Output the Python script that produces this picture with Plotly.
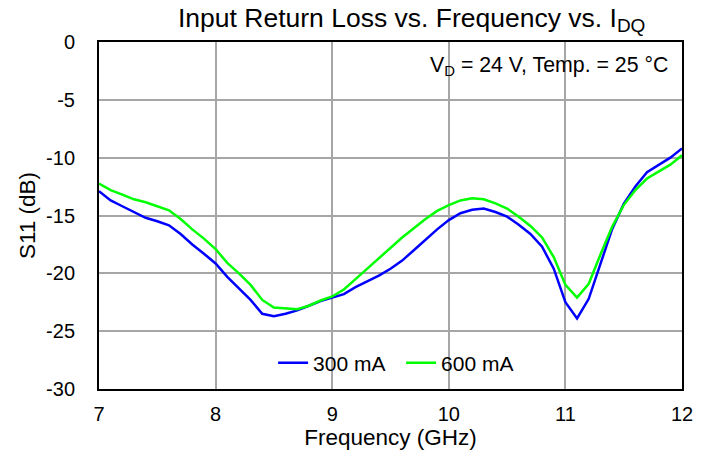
import plotly.graph_objects as go

freq = [round(7 + 0.1 * i, 1) for i in range(51)]
s11_300 = [-12.9, -13.7, -14.2, -14.7, -15.2, -15.5, -15.85, -16.6, -17.5, -18.3,
           -19.15, -20.3, -21.3, -22.3, -23.5, -23.7, -23.5, -23.2, -22.8, -22.4,
           -22.1, -21.8, -21.2, -20.7, -20.2, -19.6, -18.9, -18.0, -17.1, -16.2,
           -15.4, -14.8, -14.5, -14.4, -14.7, -15.1, -15.8, -16.6, -17.7, -19.6,
           -22.5, -23.9, -22.2, -19.15, -16.2, -14.0, -12.5, -11.25, -10.6, -10.0,
           -9.2]
s11_600 = [-12.25, -12.8, -13.2, -13.6, -13.85, -14.2, -14.55, -15.3, -16.2, -17.0,
           -17.9, -19.1, -20.0, -21.0, -22.3, -22.95, -23.05, -23.1, -22.8, -22.35,
           -22.0, -21.4, -20.5, -19.6, -18.7, -17.8, -16.9, -16.1, -15.3, -14.6,
           -14.1, -13.7, -13.5, -13.6, -13.95, -14.4, -15.1, -15.9, -16.9, -18.6,
           -21.0, -22.1, -20.9, -18.4, -16.0, -14.1, -12.8, -11.8, -11.2, -10.6,
           -9.8]
x_ticks = [7, 8, 9, 10, 11, 12]
y_ticks = [0, -5, -10, -15, -20, -25, -30]
y_ticktext = ["0", "-5", "-10", "-15", "-20", "-25", "-30"]

font = "Arial, Liberation Sans, sans-serif"

fig = go.Figure()
fig.add_trace(go.Scatter(x=freq, y=s11_300, mode="lines", name="300 mA",
                         line=dict(color="#0000ff", width=2.5)))
fig.add_trace(go.Scatter(x=freq, y=s11_600, mode="lines", name="600 mA",
                         line=dict(color="#00ff00", width=2.5)))

fig.update_layout(
    width=711, height=458,
    margin=dict(l=99, r=29, t=42, b=69),
    paper_bgcolor="white", plot_bgcolor="white",
    font=dict(family=font, size=20, color="black"),
    title=dict(text="Input Return Loss vs. Frequency vs. I<sub><span style='font-size:19px'>DQ</span></sub>",
               x=0.579, xanchor="center", y=0.962, yanchor="middle",
               font=dict(family=font, size=26.5, color="black")),
    showlegend=True,
    legend=dict(orientation="h", x=0.2986, xanchor="left", y=0.075, yanchor="middle",
                bgcolor="rgba(0,0,0,0)", font=dict(family=font, size=21),
                itemwidth=30, entrywidth=83, tracegroupgap=0),
    annotations=[dict(text="V<sub>D</sub> = 24 V, Temp. = 25 °C",
                      xref="paper", yref="paper", x=0.979, y=0.93,
                      xanchor="right", yanchor="middle", showarrow=False,
                      font=dict(family=font, size=21.3, color="black"))],
)
fig.update_xaxes(range=[7, 12], tickvals=x_ticks, showgrid=True, gridcolor="#a6a6a6",
                 gridwidth=1.5, showline=True, linecolor="black", linewidth=2, mirror=True,
                 ticks="", zeroline=False, ticklabelstandoff=6,
                 title=dict(text="Frequency (GHz)", font=dict(size=22.5), standoff=2))
fig.update_yaxes(range=[-30, 0], tickvals=y_ticks, ticktext=y_ticktext, showgrid=True,
                 gridcolor="#a6a6a6", gridwidth=1.5, showline=True, linecolor="black",
                 linewidth=2, mirror=True, ticks="", zeroline=False, ticklabelstandoff=18,
                 title=dict(text="S11 (dB)", font=dict(size=22.5), standoff=4))

fig.write_html("out.html", config={"displayModeBar": False},
               post_script="document.body.style.margin='0';")
